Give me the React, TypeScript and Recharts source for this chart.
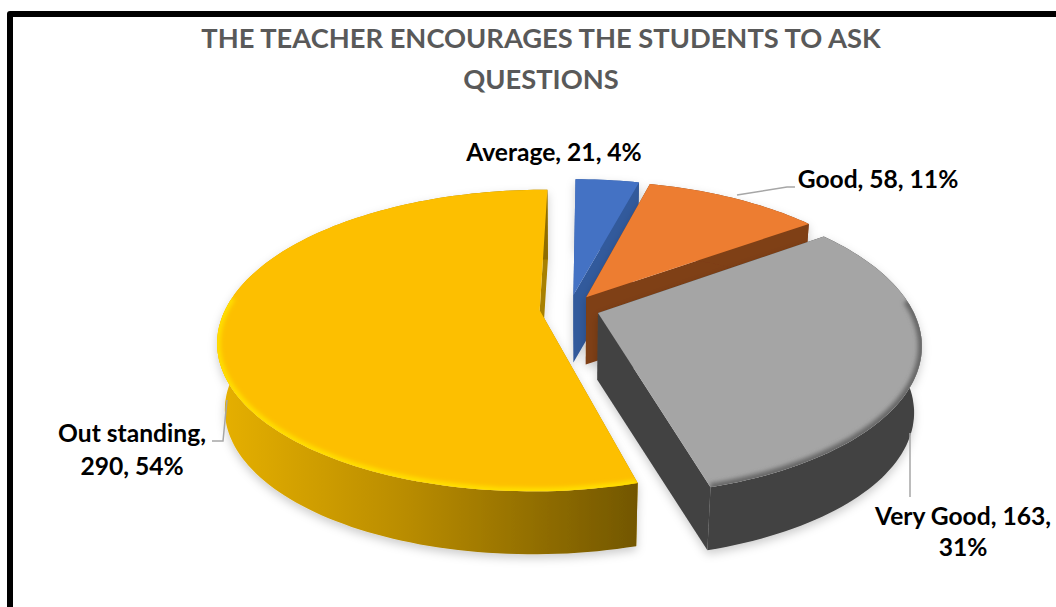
import { Cell, Pie, PieChart } from 'recharts';

const categories = ['Average', 'Good', 'Very Good', 'Out standing'];
const responses = [21, 58, 163, 290];
const percents = [4, 11, 31, 54];
const titleLines = ['THE TEACHER ENCOURAGES THE STUDENTS TO ASK', 'QUESTIONS'];

const topColors = ['#4472C4', '#ED7D31', '#A5A5A5', '#FDBF00'];
const sideColors = ['#335A9C', '#7F3F18', '#434343', '#A88000'];
const wallFills = ['#335A9C', '#7F3F18', '#434343', 'url(#outstandingWall)'];
const rimColors = [null, null, '#666666', '#FFE000'];

const FONT = 'Lato, sans-serif';
const TILT = 0.2; // perspective strength of the disc
const SQUASH = 144 / 314; // vertical squash of the disc
const EXPLODE = 0.0955; // slice explosion, as a share of the radius
const DEPTH = 67;
const BOTTOM_SCALE = 0.978; // the lower disc looks a bit smaller than the top one

const tableData = categories.map((name, i) => ({ name, value: responses[i], pct: percents[i] }));

// disc point (in radius units) to screen, with one camera for all slices
function toScreen(u: number, v: number, cx: number, cy: number, r: number) {
	const p = 1 / (1 - TILT * v);
	return [cx + r * u * p, cy + r * SQUASH * v * p];
}

function arcPoints(from: number, to: number, eu: number, ev: number, cx: number, cy: number, r: number) {
	const pts: number[][] = [];
	const steps = Math.max(2, Math.ceil((to - from) / 1.5));
	for (let i = 0; i <= steps; i++) {
		const rad = ((from + ((to - from) * i) / steps) * Math.PI) / 180;
		pts.push(toScreen(Math.sin(rad) + eu, -Math.cos(rad) + ev, cx, cy, r));
	}
	return pts;
}

const toPath = (pts: number[][], close = true) =>
	'M' + pts.map((p) => `${p[0].toFixed(1)} ${p[1].toFixed(1)}`).join('L') + (close ? 'Z' : '');

function Slice3D(props: any) {
	const { cx, cy, outerRadius, startAngle, endAngle, midAngle, name } = props;
	const idx = categories.indexOf(name);
	const from = 90 - startAngle;
	const to = 90 - endAngle;
	const mid = ((90 - midAngle) * Math.PI) / 180;
	const eu = EXPLODE * Math.sin(mid);
	const ev = -EXPLODE * Math.cos(mid);
	const arc = arcPoints(from, to, eu, ev, cx, cy, outerRadius);
	const apex = toScreen(eu, ev, cx, cy, outerRadius);
	const first = arc[0];
	const last = arc[arc.length - 1];
	const drop = (pts: number[][]) =>
		pts.map((p) => [cx + (p[0] - cx) * BOTTOM_SCALE, cy + (p[1] - cy) * BOTTOM_SCALE + DEPTH]);

	const rimFrom = Math.max(from, 85);
	const rimTo = Math.min(to, 275);
	const rim = rimColors[idx];

	return (
		<g>
			<g filter="url(#pieShadow)">
				<path d={toPath([apex, first, ...drop([first, apex])])} fill={sideColors[idx]} />
				<path d={toPath([apex, last, ...drop([last, apex])])} fill={sideColors[idx]} />
				<path d={toPath([...arc, ...drop(arc).reverse()])} fill={wallFills[idx]} />
			</g>
			<path d={toPath([apex, ...arc])} fill={topColors[idx]} />
			{rim && rimTo > rimFrom && (
				<g clipPath={`url(#topClip${idx})`}>
					<clipPath id={`topClip${idx}`}>
						<path d={toPath([apex, ...arc])} />
					</clipPath>
					<path
						d={toPath(arcPoints(rimFrom, rimTo, eu, ev, cx, cy, outerRadius), false)}
						fill="none"
						stroke={rim}
						strokeWidth={idx === 3 ? 7 : 8}
						filter="url(#rimBlur)"
					/>
				</g>
			)}
		</g>
	);
}

// label anchors, in the order of categories
const labelAnchors = [
	{ x: 554, y: 161 },
	{ x: 878, y: 188 },
	{ x: 963, y: 525 },
	{ x: 132, y: 442 },
];
const leaderLines = [
	'',
	'737,195 787,187 795,187',
	'910,433 910,497',
	'227,400 223,441 212,441',
];

function SliceLabel(props: any) {
	const { name, value, pct } = props.payload ?? props;
	const idx = categories.indexOf(name);
	const a = labelAnchors[idx];
	const shared = { x: a.x, textAnchor: 'middle' as const, fontFamily: FONT, fontWeight: 700, fontSize: 24.6, fill: '#000' };
	return (
		<g>
			{leaderLines[idx] && <polyline points={leaderLines[idx]} fill="none" stroke="#A6A6A6" strokeWidth={1.5} />}
			{idx === 2 ? (
				<>
					<text {...shared} y={a.y}>{`${name}, ${value},`}</text>
					<text {...shared} y={a.y + 31}>{`${pct}%`}</text>
				</>
			) : idx === 3 ? (
				<>
					<text {...shared} y={a.y}>{`${name},`}</text>
					<text {...shared} y={a.y + 33}>{`${value}, ${pct}%`}</text>
				</>
			) : (
				<text {...shared} y={a.y}>{`${name}, ${value}, ${pct}%`}</text>
			)}
		</g>
	);
}

export default function App() {
	return (
		<div style={{ position: 'absolute', left: 0, top: 0, width: 1056, height: 607, overflow: 'hidden', background: '#fff' }}>
			<PieChart width={1056} height={607} margin={{ top: 0, right: 0, bottom: 0, left: 0 }}>
				<defs>
					<linearGradient id="outstandingWall" gradientUnits="userSpaceOnUse" x1={219} y1={0} x2={636} y2={0}>
						<stop offset="0%" stopColor="#E6B000" />
						<stop offset="45%" stopColor="#B98C00" />
						<stop offset="100%" stopColor="#735700" />
					</linearGradient>
					<filter id="pieShadow" x="-20%" y="-20%" width="140%" height="140%">
						<feDropShadow dx={0} dy={4} stdDeviation={5} floodColor="#000" floodOpacity={0.2} />
					</filter>
					<filter id="rimBlur" x="-10%" y="-10%" width="120%" height="120%">
						<feGaussianBlur stdDeviation={2.2} />
					</filter>
				</defs>
				<path d="M10 607 V14 H1056" fill="none" stroke="#000" strokeWidth={6} strokeLinejoin="round" />
				{titleLines.map((line, i) => (
					<text
						key={line}
						x={541}
						y={48 + i * 41}
						textAnchor="middle"
						fontFamily={FONT}
						fontWeight={700}
						fontSize={27.3}
						fill="#595959"
					>
						{line}
					</text>
				))}
				<Pie
					data={tableData}
					dataKey="value"
					nameKey="name"
					cx={569.5}
					cy={308.5}
					innerRadius={0}
					outerRadius={314}
					startAngle={89.4}
					endAngle={-270.6}
					paddingAngle={0}
					stroke="none"
					shape={Slice3D}
					label={SliceLabel}
					labelLine={false}
					isAnimationActive={false}
				>
					{categories.map((name, i) => (
						<Cell key={name} fill={topColors[i]} />
					))}
				</Pie>
			</PieChart>
		</div>
	);
}
